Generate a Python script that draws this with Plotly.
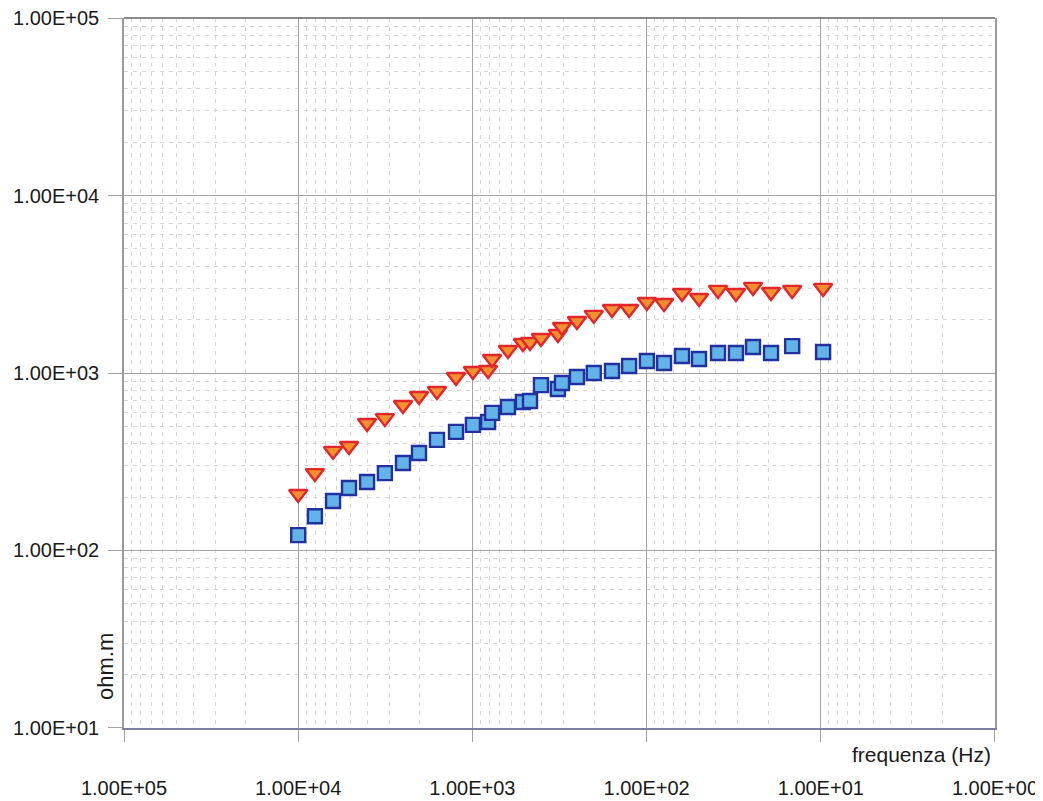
import plotly.graph_objects as go

# Frequencies (Hz)
freq = [10000, 8020, 6310, 5110, 4025, 3180, 2503, 2026, 1597, 1242, 993,
        813, 771, 625, 513, 467, 404, 323, 306, 251, 201, 158, 126, 99.6,
        79.4, 62.6, 50, 38.9, 30.7, 24.5, 19.3, 14.6, 9.7]

# Red triangles (ohm.m)
rho_tri = [208, 273, 364, 388, 523, 557, 660, 742, 792, 949, 1026,
           1040, 1199, 1348, 1476, 1496, 1575, 1660, 1817, 1965, 2125, 2296, 2296, 2513,
           2479, 2823, 2647, 2938, 2823, 3055, 2861, 2938, 3016]

# Blue squares (ohm.m)
rho_sq = [122, 156, 190, 225, 243, 273, 311, 354, 420, 466, 510,
          530, 596, 643, 687, 695, 855, 813, 879, 949, 1000, 1026, 1094, 1169,
          1138, 1247, 1199, 1297, 1297, 1401, 1297, 1418, 1312]

major_vals = [1e0, 1e1, 1e2, 1e3, 1e4, 1e5]
major_text = ["1.00E+00", "1.00E+01", "1.00E+02", "1.00E+03", "1.00E+04", "1.00E+05"]
minor_vals = [m * 10 ** e for e in range(0, 5) for m in range(2, 10)]

FONT = "Liberation Sans, Arial, sans-serif"

fig = go.Figure()
fig.add_trace(go.Scatter(
    x=freq, y=rho_tri, mode="markers", name="tri",
    marker=dict(symbol="triangle-down", size=16, color="#f39130",
                line=dict(color="#e2262a", width=2.4)),
))
fig.add_trace(go.Scatter(
    x=freq, y=rho_sq, mode="markers", name="sq",
    marker=dict(symbol="square", size=14, color="#62b3e8",
                line=dict(color="#23319e", width=2.4)),
))

axis_common = dict(
    type="log",
    automargin=False,
    tickmode="array",
    tickvals=major_vals,
    ticktext=major_text,
    ticklabeloverflow="allow",
    showgrid=True,
    gridcolor="#a3a3a3",
    gridwidth=1,
    ticks="outside",
    tickcolor="#a3a3a3",
    tickwidth=1,
    zeroline=False,
    minor=dict(tickmode="array", tickvals=minor_vals, showgrid=True,
               gridcolor="#d6d6d6", griddash="4px,5px", gridwidth=1, ticks=""),
)

fig.update_xaxes(**axis_common)
fig.update_xaxes(range=[5.0001, -0.0001], ticklen=12, ticklabelstandoff=29,
                 tickfont=dict(family=FONT, size=20, color="#1a1a1a"),
                 showline=True, linecolor="#7c7f9e", linewidth=2, mirror=False)
fig.update_yaxes(**axis_common)
fig.update_yaxes(range=[0.9999, 5.0001], ticklen=14, ticklabelstandoff=5,
                 tickfont=dict(family=FONT, size=20, color="#1a1a1a"),
                 showline=True, linecolor="#9a9a9a", linewidth=1.5, mirror=True)

fig.add_shape(type="line", xref="paper", yref="paper", x0=0, x1=1, y0=1, y1=1,
              line=dict(color="#8a8a8a", width=2))

fig.add_annotation(text="frequenza (Hz)", xref="paper", yref="paper",
                   x=0.9977, y=-0.037, xanchor="right", yanchor="middle",
                   showarrow=False,
                   font=dict(family=FONT, size=21, color="#1a1a1a"))
fig.add_annotation(text="ohm.m", xref="paper", yref="paper",
                   x=-0.021, y=0.087, xanchor="center", yanchor="middle",
                   textangle=-90, showarrow=False,
                   font=dict(family=FONT, size=22, color="#1a1a1a"))

# The page body has an 8px margin; margins account for it so the plot area
# lands at x 124..995, y 18..728 in the window.
fig.update_layout(
    width=1043, height=801,
    margin=dict(l=116, r=56, t=10, b=81),
    paper_bgcolor="white", plot_bgcolor="white",
    showlegend=False,
)

fig.write_html("out.html")
